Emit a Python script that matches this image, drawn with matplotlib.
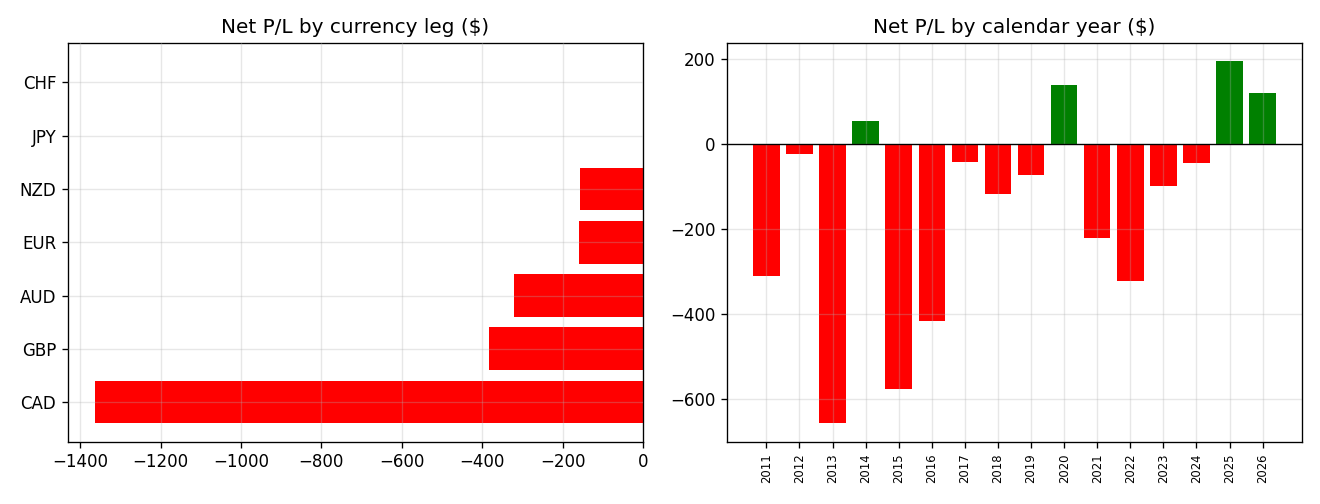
import matplotlib
matplotlib.use("Agg")
import matplotlib.pyplot as plt

currencies = ["CAD", "GBP", "AUD", "EUR", "NZD", "JPY", "CHF"]
currency_pl = [-1362, -382, -320, -159, -156, 0, 0]

years = ["2011", "2012", "2013", "2014", "2015", "2016", "2017", "2018",
         "2019", "2020", "2021", "2022", "2023", "2024", "2025", "2026"]
year_pl = [-309, -22, -657, 55, -577, -415, -41, -116,
           -71, 140, -220, -321, -97, -43, 196, 121]

def col(v):
    return "green" if v > 0 else "red"

fig, (ax1, ax2) = plt.subplots(1, 2, figsize=(11, 4.2), dpi=120)
fig.subplots_adjust(left=0.0515, right=0.9864, top=0.9147, bottom=0.124, wspace=0.146)

ax1.barh(currencies, currency_pl, color=[col(v) for v in currency_pl], height=0.8)
ax1.set_title("Net P/L by currency leg ($)")
ax1.grid(True, alpha=0.3)
ax1.set_axisbelow(False)

ax2.bar(years, year_pl, color=[col(v) for v in year_pl], width=0.8)
ax2.axhline(0, color="black", linewidth=0.8)
ax2.set_title("Net P/L by calendar year ($)")
ax2.grid(True, alpha=0.3)
ax2.tick_params(axis="x", labelrotation=90, labelsize=7)

fig.savefig("out.png", dpi=120)
